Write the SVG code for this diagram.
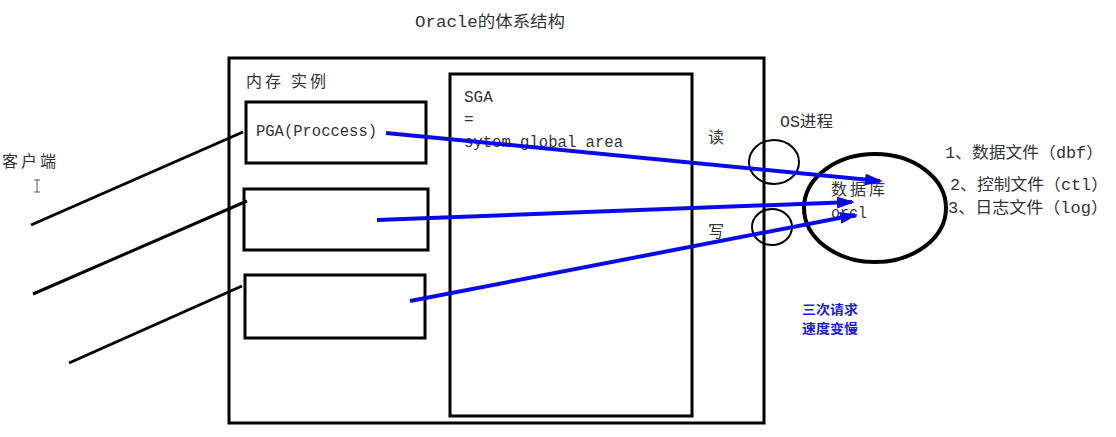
<svg xmlns="http://www.w3.org/2000/svg" width="1116" height="437" viewBox="0 0 1116 437">
<style>
.t{font-family:"Liberation Mono","Noto Sans CJK SC",monospace;fill:#333;font-size:16px}
.c{font-family:"Noto Sans CJK SC",sans-serif;fill:#333;font-size:16px}
.b{fill:none;stroke:#000;stroke-width:3}
.cl{stroke:#000;stroke-width:3;fill:none}
.ar{stroke:#0a0ae8;stroke-width:4;fill:none}
.blue{font-family:"Noto Sans CJK SC",sans-serif;fill:#1a1ad8;font-size:13px;font-weight:bold}
</style>
<defs>
<marker id="ah" markerWidth="18" markerHeight="12" refX="15" refY="6" orient="auto" markerUnits="userSpaceOnUse">
<path d="M0,0 L18,6 L0,12 Z" fill="#0a0ae8"/>
</marker>
</defs>
<rect width="1116" height="437" fill="#fff"/>
<g id="title"><text class="t" x="415" y="27" font-size="17" textLength="150" lengthAdjust="spacingAndGlyphs">Oracle的体系结构</text></g>
<g id="instance">
<rect class="b" x="229" y="58" width="535" height="365"/>
<text class="c" x="246" y="87" textLength="80" lengthAdjust="spacing">内存 实例</text>
</g>
<g id="pga1"><rect class="b" x="246" y="102" width="180" height="61"/>
<text class="t" x="256" y="136" textLength="121" lengthAdjust="spacingAndGlyphs">PGA(Proccess)</text></g>
<g id="pga2"><rect class="b" x="244" y="189" width="184" height="61"/></g>
<g id="pga3"><rect class="b" x="245" y="275" width="180" height="63"/></g>
<g id="sga"><rect class="b" x="450" y="74" width="242" height="342"/>
<text class="t" x="464" y="102">SGA</text>
<text class="t" x="464" y="124">=</text>
<text class="t" x="464" y="147" textLength="159" lengthAdjust="spacingAndGlyphs">sytem global area</text></g>
<g id="client"><text class="c" x="2" y="167" font-size="17" textLength="54" lengthAdjust="spacing">客户端</text>
<path d="M34,180 h6 M37,180 v12 M34,192 h6" stroke="#555" stroke-width="1" fill="none"/></g>
<g id="os">
<ellipse cx="774" cy="162" rx="25" ry="22" fill="none" stroke="#000" stroke-width="2"/>
<ellipse cx="772" cy="227" rx="20" ry="18" fill="none" stroke="#000" stroke-width="2"/>
<text class="c" x="708" y="143">读</text>
<text class="c" x="708" y="237">写</text>
<text class="t" x="780" y="127" textLength="53" lengthAdjust="spacingAndGlyphs">OS进程</text>
</g>
<g id="database">
<ellipse cx="875" cy="208" rx="71" ry="54" fill="none" stroke="#000" stroke-width="4"/>
<text class="c" x="831" y="195" font-size="17" textLength="54" lengthAdjust="spacing">数据库</text>
<text class="t" x="831" y="218" textLength="36" lengthAdjust="spacingAndGlyphs">orcl</text>
</g>
<g id="files">
<text class="t" x="945" y="158" font-size="17" textLength="158" lengthAdjust="spacingAndGlyphs">1、数据文件（dbf）</text>
<text class="t" x="950" y="190" font-size="17" textLength="158" lengthAdjust="spacingAndGlyphs">2、控制文件（ctl）</text>
<text class="t" x="948" y="213" font-size="17" textLength="160" lengthAdjust="spacingAndGlyphs">3、日志文件（log）</text>
</g>
<g id="note">
<text class="blue" x="802" y="314" textLength="56" lengthAdjust="spacingAndGlyphs">三次请求</text>
<text class="blue" x="802" y="333" textLength="56" lengthAdjust="spacingAndGlyphs">速度变慢</text>
</g>
<g id="connectors">
<line class="cl" x1="31" y1="225" x2="243" y2="132"/>
<line class="cl" x1="33" y1="294" x2="247" y2="201"/>
<line class="cl" x1="69" y1="363" x2="242" y2="286"/>
<line class="ar" x1="386" y1="133" x2="880" y2="181" marker-end="url(#ah)"/>
<line class="ar" x1="377" y1="220" x2="852" y2="202" marker-end="url(#ah)"/>
<line class="ar" x1="410" y1="301" x2="855" y2="215" marker-end="url(#ah)"/>
</g>
</svg>
